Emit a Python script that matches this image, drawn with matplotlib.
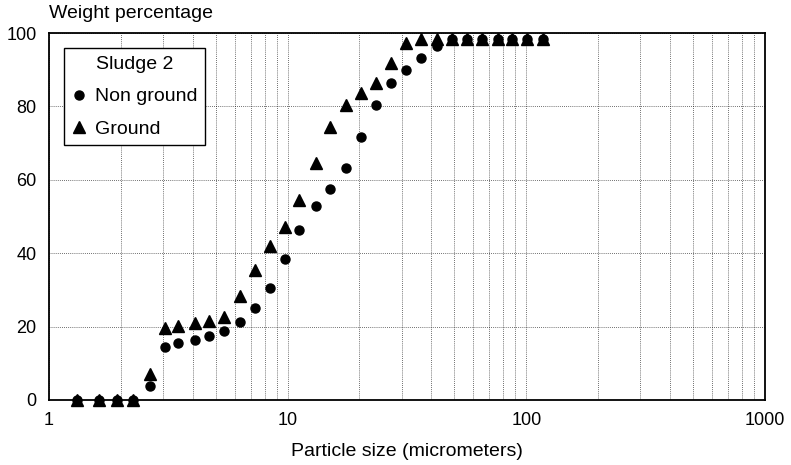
import matplotlib
matplotlib.use("Agg")
import matplotlib.pyplot as plt
from matplotlib.ticker import LogLocator, NullFormatter

plt.rcParams['font.family'] = ['Liberation Sans', 'DejaVu Sans']

# particle sizes (micrometers)
size = [1.31, 1.62, 1.93, 2.25, 2.64, 3.05, 3.47, 4.07, 4.69, 5.39, 6.29,
        7.32, 8.44, 9.71, 11.2, 13.1, 15.1, 17.5, 20.3, 23.5, 27.2, 31.4,
        36.1, 42.4, 49.0, 56.6, 65.4, 76.1, 87.4, 100.4, 118]

non_ground = [0, 0, 0, 0, 3.9, 14.3, 15.6, 16.3, 17.4, 18.8, 21.3,
              25.0, 30.6, 38.4, 46.3, 52.9, 57.5, 63.3, 71.7, 80.4, 86.3, 89.9,
              93.1, 96.5, 98.5, 98.5, 98.5, 98.5, 98.5, 98.5, 98.5]

ground = [0, 0, 0, 0, 7.1, 19.5, 20.2, 20.9, 21.6, 22.7, 28.4,
          35.4, 42.0, 47.2, 54.5, 64.7, 74.3, 80.3, 83.6, 86.5, 91.9, 97.4,
          98.5, 98.5, 98.5, 98.5, 98.5, 98.5, 98.5, 98.5, 98.5]

fig = plt.figure(figsize=(7.91, 4.65), dpi=100)
ax = fig.add_axes([0.062, 0.140, 0.905, 0.789])

ax.plot(size, non_ground, linestyle='none', marker='o', ms=6.5,
        color='black', label='Non ground', clip_on=False, zorder=3)
ax.plot(size, ground, linestyle='none', marker='^', ms=8.5,
        color='black', label='Ground', clip_on=False, zorder=3)

ax.set_xscale('log')
ax.set_xlim(1, 1000)
ax.set_ylim(0, 100)
ax.set_xticks([1, 10, 100, 1000])
ax.set_xticklabels(['1', '10', '100', '1000'])
ax.xaxis.set_minor_locator(LogLocator(base=10, subs=range(2, 10)))
ax.xaxis.set_minor_formatter(NullFormatter())
ax.set_yticks([0, 20, 40, 60, 80, 100])

ax.tick_params(axis='both', which='both', length=0, labelsize=13)
ax.tick_params(axis='x', pad=9)
ax.tick_params(axis='y', pad=9)

grid_style = dict(color='black', linestyle=(0, (1, 1.5)), linewidth=0.6, alpha=0.75)
ax.grid(True, which='major', axis='both', **grid_style)
ax.grid(True, which='minor', axis='x', **grid_style)

for sp in ax.spines.values():
    sp.set_linewidth(1.3)

ax.set_xlabel('Particle size (micrometers)', fontsize=14, labelpad=10)
ax.annotate('Weight percentage', xy=(0, 1), xycoords='axes fraction',
            xytext=(0, 8), textcoords='offset points', fontsize=14,
            ha='left', va='bottom')

leg = ax.legend(title='Sludge 2', loc='upper left', bbox_to_anchor=(0.021, 0.958),
                fontsize=14, title_fontsize=14, frameon=True, fancybox=False,
                edgecolor='black', handlelength=0.7, handletextpad=0.5,
                borderaxespad=0, labelspacing=0.75, borderpad=0.4)
leg.get_frame().set_linewidth(1.0)
leg.get_frame().set_alpha(1)

fig.savefig('out.png', dpi=100)
